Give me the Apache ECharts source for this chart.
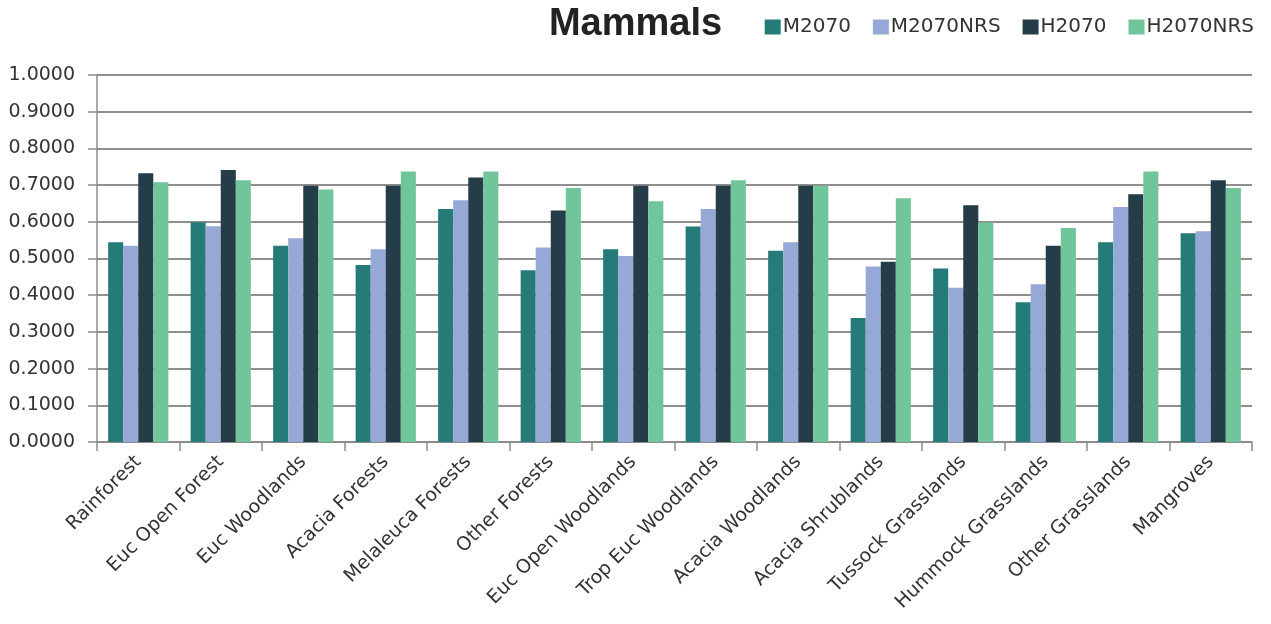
<!DOCTYPE html>
<html>
<head>
<meta charset="utf-8">
<script src="https://cdn.jsdelivr.net/npm/echarts@6/dist/echarts.min.js"></script>
<style>
  html, body { margin: 0; padding: 0; background: #fff; }
  #chart { width: 1271px; height: 624px; }
</style>
</head>
<body>
<div id="chart"></div>
<script>
// Habitat categories along the x axis
var categories = [
  'Rainforest', 'Euc Open Forest', 'Euc Woodlands', 'Acacia Forests',
  'Melaleuca Forests', 'Other Forests', 'Euc Open Woodlands', 'Trop Euc Woodlands',
  'Acacia Woodlands', 'Acacia Shrublands', 'Tussock Grasslands', 'Hummock Grasslands',
  'Other Grasslands', 'Mangroves'
];

// Scenario values per habitat
var m2070    = [0.544, 0.599, 0.535, 0.482, 0.635, 0.468, 0.525, 0.587, 0.521, 0.338, 0.473, 0.381, 0.544, 0.569];
var m2070nrs = [0.535, 0.588, 0.555, 0.525, 0.659, 0.530, 0.507, 0.635, 0.544, 0.478, 0.420, 0.430, 0.640, 0.574];
var h2070    = [0.732, 0.741, 0.698, 0.698, 0.721, 0.631, 0.698, 0.698, 0.698, 0.491, 0.645, 0.535, 0.675, 0.713];
var h2070nrs = [0.708, 0.713, 0.688, 0.737, 0.737, 0.692, 0.656, 0.713, 0.698, 0.664, 0.598, 0.583, 0.737, 0.692];

var seriesNames = ['M2070', 'M2070NRS', 'H2070', 'H2070NRS'];
var seriesData = [m2070, m2070nrs, h2070, h2070nrs];
var seriesColors = ['#247b78', '#96a8d6', '#243d49', '#71c59a'];

var textColor = '#333333';
var fontFamily = 'DejaVu Sans';

var chart = echarts.init(document.getElementById('chart'));

chart.setOption({
  animation: false,
  backgroundColor: '#ffffff',
  title: {
    text: 'Mammals',
    left: 'center',
    top: 1,
    textStyle: {
      fontFamily: 'Liberation Sans',
      fontWeight: 'bold',
      fontSize: 38,
      color: '#222222'
    }
  },
  legend: {
    right: 12,
    top: 12,
    itemWidth: 16,
    itemHeight: 15,
    itemGap: 22,
    icon: 'rect',
    data: seriesNames,
    textStyle: {
      fontFamily: fontFamily,
      fontSize: 20,
      color: textColor,
      padding: [0, 0, 0, -3]
    }
  },
  grid: {
    left: 97,
    right: 19,
    top: 75,
    bottom: 182
  },
  xAxis: {
    type: 'category',
    data: categories,
    axisLine: { show: true, lineStyle: { color: '#8c8c8c', width: 1.5 } },
    axisTick: { show: true, alignWithLabel: false, length: 9, lineStyle: { color: '#8c8c8c', width: 1.5 } },
    axisLabel: {
      interval: 0,
      rotate: 45,
      margin: 17,
      fontFamily: fontFamily,
      fontSize: 19,
      color: textColor
    }
  },
  yAxis: {
    type: 'value',
    min: 0,
    max: 1,
    interval: 0.1,
    axisLine: { show: true, lineStyle: { color: '#8c8c8c', width: 1.5 } },
    axisTick: { show: true, inside: false, length: 9, lineStyle: { color: '#8c8c8c', width: 1.5 } },
    splitLine: { show: true, lineStyle: { color: '#8f8f8f', width: 2 } },
    axisLabel: {
      margin: 22,
      fontFamily: fontFamily,
      fontSize: 19,
      color: textColor,
      formatter: function (v) { return v.toFixed(4); }
    }
  },
  series: seriesNames.map(function (name, i) {
    return {
      name: name,
      type: 'bar',
      data: seriesData[i],
      barGap: '0%',
      barCategoryGap: '27%',
      itemStyle: { color: seriesColors[i] }
    };
  })
});
</script>
</body>
</html>
